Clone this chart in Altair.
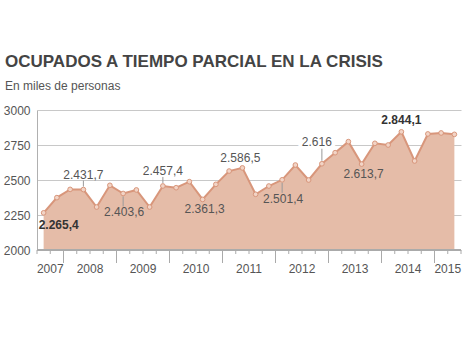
import altair as alt
import pandas as pd

# ---- data -----------------------------------------------------------
years = [2007, 2007,
         2008, 2008, 2008, 2008,
         2009, 2009, 2009, 2009,
         2010, 2010, 2010, 2010,
         2011, 2011, 2011, 2011,
         2012, 2012, 2012, 2012,
         2013, 2013, 2013, 2013,
         2014, 2014, 2014, 2014,
         2015, 2015]
quarters = [3, 4,
            1, 2, 3, 4,
            1, 2, 3, 4,
            1, 2, 3, 4,
            1, 2, 3, 4,
            1, 2, 3, 4,
            1, 2, 3, 4,
            1, 2, 3, 4,
            1, 2]
values = [2265.4, 2374, 2433, 2431.7, 2307, 2462,
          2403.6, 2429, 2307, 2457.4,
          2445, 2488, 2361.3, 2469,
          2564, 2586.5, 2398, 2457,
          2501.4, 2607, 2500, 2616,
          2695, 2774, 2613.7, 2762,
          2750, 2844.1, 2636, 2829,
          2836, 2826]
label_idx = [0, 3, 6, 9, 12, 15, 18, 21, 24, 27]
label_text = ["2.265,4", "2.431,7", "2.403,6", "2.457,4", "2.361,3",
              "2.586,5", "2.501,4", "2.616", "2.613,7", "2.844,1"]
y_ticks = [2000, 2250, 2500, 2750, 3000]
title = "OCUPADOS A TIEMPO PARCIAL EN LA CRISIS"
subtitle = "En miles de personas"

# ---- tables ---------------------------------------------------------
n = len(values)
df = pd.DataFrame({"idx": list(range(n)), "v": values, "year": years, "q": quarters})
ann = pd.DataFrame({"idx": label_idx,
                    "v": [values[i] for i in label_idx],
                    "txt": label_text})
bounds = pd.DataFrame({"b": [i - 0.5 for i in range(n + 1)]})
year_bounds = pd.DataFrame({"b": [i - 0.5 for i in range(1, n) if years[i] != years[i - 1]]})
year_df = df.groupby("year", as_index=False)["idx"].mean().rename(columns={"idx": "c"})

FONT = "Liberation Sans"
FILL = "#e5bca8"
LINE = "#d8967b"
PT = "#f2d4c6"
TXT = "#555555"
DARK = "#333333"

W, H = 424, 140
xs = alt.Scale(domain=[-0.5, n - 0.5], nice=False, zero=False)
ys = alt.Scale(domain=[2000, 3000], nice=False, zero=False)
yaxis = alt.Axis(values=y_ticks, grid=True, gridColor="#c8c8c8", domainColor="#b0b0b0",
                 ticks=False, labelPadding=7, labelFontSize=12, labelColor=TXT,
                 labelFont=FONT, title=None, format="d")

X = lambda f: alt.X(f, type="quantitative", scale=xs, axis=None)
Y = alt.Y("v:Q", scale=ys, axis=yaxis)

base = alt.Chart(df)
area = base.mark_area(color=FILL, opacity=1).encode(x=X("idx"), y=Y, y2=alt.datum(2000))
line = base.mark_line(color=LINE, strokeWidth=2).encode(x=X("idx"), y=Y)
pts = base.mark_circle(size=22, color=PT, stroke=LINE, strokeWidth=1, opacity=1).encode(x=X("idx"), y=Y)

xdomain = alt.Chart(df).mark_rule(color="#aaaaaa").encode(
    x=alt.value(0), x2=alt.value(W), y=alt.value(H))
minor = alt.Chart(bounds).mark_rule(color="#aaaaaa").encode(
    x=X("b"), y=alt.value(H), y2=alt.value(H + 4))
major = alt.Chart(year_bounds).mark_rule(color="#aaaaaa").encode(
    x=X("b"), y=alt.value(H), y2=alt.value(H + 13))
ylabels = alt.Chart(year_df).mark_text(fontSize=12, font=FONT, color=TXT, baseline="alphabetic").encode(
    x=X("c"), y=alt.value(H + 23), text="year:N")


def sel(ids):
    return alt.FieldOneOfPredicate(field="idx", oneOf=ids)


A = alt.Chart(ann)
txt_kw = dict(fontSize=12, font=FONT, color=TXT)

# labels above with short leader
lab_up = A.transform_filter(sel([3, 9])).mark_text(baseline="alphabetic", dy=-11, **txt_kw).encode(
    x=X("idx"), y=Y, text="txt:N")
lead_up = A.transform_filter(sel([3, 9])).mark_rule(color="#999999", yOffset=-3, y2Offset=-9).encode(
    x=X("idx"), y=Y, y2="v:Q")
# 2.616 with long leader and white halo
halo = A.transform_filter(sel([21])).mark_text(baseline="alphabetic", dy=-18, dx=-5, stroke="white",
                                               strokeWidth=8, fontSize=12, font=FONT, color="white").encode(
    x=X("idx"), y=Y, text="txt:N")
lab_616 = A.transform_filter(sel([21])).mark_text(baseline="alphabetic", dy=-18, dx=-5, **txt_kw).encode(
    x=X("idx"), y=Y, text="txt:N")
lead_616 = A.transform_filter(sel([21])).mark_rule(color="#999999", yOffset=-3, y2Offset=-15).encode(
    x=X("idx"), y=Y, y2="v:Q")
# labels above without leader
lab_up2 = A.transform_filter(sel([15])).mark_text(baseline="alphabetic", dy=-6, dx=-2, **txt_kw).encode(
    x=X("idx"), y=Y, text="txt:N")
lab_max = A.transform_filter(sel([27])).mark_text(baseline="alphabetic", dy=-8, fontSize=12, font=FONT,
                                                  color=DARK, fontWeight="bold").encode(
    x=X("idx"), y=Y, text="txt:N")
# labels below with leader
lab_dn = A.transform_filter(sel([6, 18])).mark_text(baseline="top", dy=14, dx=1, **txt_kw).encode(
    x=X("idx"), y=Y, text="txt:N")
lead_dn = A.transform_filter(sel([6, 18])).mark_rule(color="#999999", yOffset=3, y2Offset=13).encode(
    x=X("idx"), y=Y, y2="v:Q")
# labels below without leader
lab_dn2 = A.transform_filter(sel([12, 24])).mark_text(baseline="top", dy=5, dx=2, **txt_kw).encode(
    x=X("idx"), y=Y, text="txt:N")
lab_min = A.transform_filter(sel([0])).mark_text(baseline="top", align="left", dy=7, dx=-5, fontSize=12,
                                                 font=FONT, color=DARK, fontWeight="bold").encode(
    x=X("idx"), y=Y, text="txt:N")

ttl = alt.Chart(pd.DataFrame({"t": [title]})).mark_text(
    align="left", baseline="alphabetic", fontSize=17, fontWeight="bold", font=FONT, color="#444444").encode(
    x=alt.value(-32), y=alt.value(-43), text="t:N")
sub = alt.Chart(pd.DataFrame({"t": [subtitle]})).mark_text(
    align="left", baseline="alphabetic", fontSize=12, font=FONT, color=TXT).encode(
    x=alt.value(-32), y=alt.value(-20), text="t:N")

chart = alt.layer(
    area, line, pts, xdomain, minor, major, ylabels,
    lead_up, lab_up, halo, lab_616, lead_616, lab_up2, lab_max,
    lead_dn, lab_dn, lab_dn2, lab_min, ttl, sub
).properties(
    width=W, height=H,
    padding={"left": 37, "top": 110, "right": 9, "bottom": 103},
    autosize=alt.AutoSizeParams(type="none"),
    background="white",
).configure_view(stroke=None)

chart.save("out.html", embed_options={"renderer": "svg", "actions": False})
